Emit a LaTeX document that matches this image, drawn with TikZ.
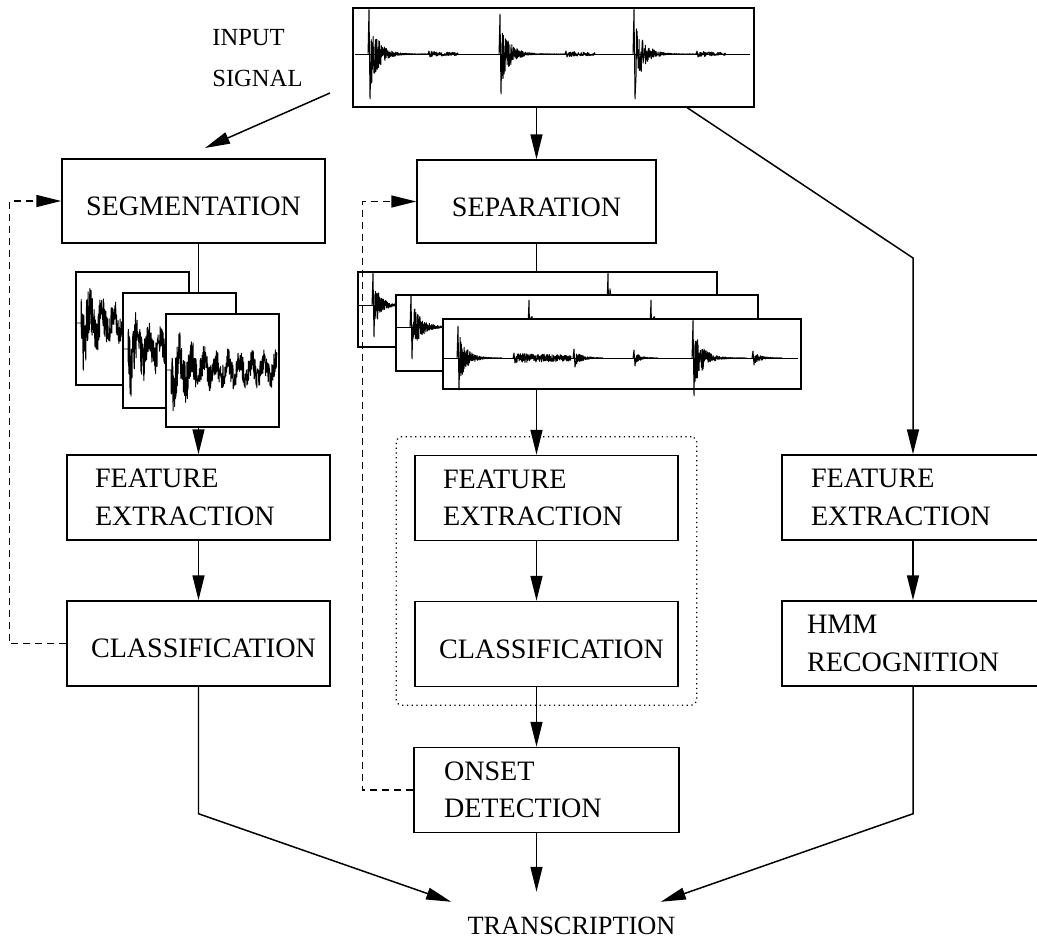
\documentclass[tikz,border=0pt]{standalone}
\usepackage{fontspec}
\setmainfont{Liberation Serif}
\usetikzlibrary{positioning, arrows.meta, calc, fit}
\newcommand{\stagefont}{\fontsize{16}{21.3}\selectfont}
\newcommand{\smallfont}{\fontsize{14}{23.5}\selectfont}
\newcommand{\transfont}{\fontsize{15}{18}\selectfont}
% decaying burst on a trace: x, midline, amplitude, decay, length, samples
\newcommand{\burst}[6]{%
  \draw[sigline] (#1,#2) -- (#1+1,#2-#3) -- (#1+2,#2+#3)
    -- plot[domain=3:#5, samples=#6] ({#1+\x},{#2+#3*exp(-\x/#4)*rand});}
% one segmented hit: x, midline, length
\newcommand{\hitwave}[3]{%
  \draw[sigline] (#1,#2) -- (#1+5,#2)
    -- plot[domain=0:#3, samples=420] ({#1+5+\x},{#2+54*(0.38+0.62*exp(-\x/16))*(0.4*sin(\x*30)+0.6*rand)});}
\hyphenpenalty=10000
\hbadness=10000
\hfuzz=3cm

\begin{document}
\begin{tikzpicture}[x=0.02cm, y=-0.02cm, >={Triangle[length=0.5cm, width=0.24cm]},
  stage/.style={draw, line width=0.85pt, minimum width=5.26cm, minimum height=1.7cm,
    inner xsep=0pt, text width=#1, align=left, font=\stagefont},
  stage/.default=4.14cm,
  waveframe/.style={draw, fill=white, line width=0.85pt, inner sep=0pt},
  sigline/.style={line width=0.55pt, line join=round},
  link/.style={line width=0.85pt},
  feedback/.style={line width=0.85pt, dash pattern=on 0.14cm off 0.1cm}]
  \pgfmathsetseed{7}
  \useasboundingbox (0,0) rectangle (1037,940);

  % Input signal
  \node[waveframe, minimum width=8.02cm, minimum height=1.98cm] (sig) at (553.5,57.5) {};
  \draw[sigline] (355,54) -- (750,54);
  \burst{368}{54}{45}{9}{70}{280}
  \burst{499}{54}{40}{9}{70}{280}
  \burst{633}{54}{45}{9}{70}{280}
  \burst{428}{54}{3}{40}{30}{90}
  \burst{565}{54}{3}{40}{30}{90}
  \burst{696}{54}{3}{40}{30}{90}
  \node[font=\smallfont, align=left, anchor=north west, inner sep=0pt] (inlabel) at (212,29) {INPUT\\SIGNAL};

  % Top stages
  \node[stage=4.6cm, align=center, minimum height=1.68cm, text height=0.6cm] (seg) at (193.5,201) {SEGMENTATION};
  \node[stage=4.6cm, align=center, minimum width=4.78cm, minimum height=1.66cm, text height=0.6cm] (sep) at (536.5,201.5) {SEPARATION};

  % Segmented hits
  \node[waveframe, minimum width=2.26cm, minimum height=2.26cm] (seg1) at (132.5,328.5) {};
  \hitwave{76}{323}{105}
  \node[waveframe, minimum width=2.26cm, minimum height=2.3cm] (seg2) at (179.5,350.5) {};
  \hitwave{123}{349}{105}
  \node[waveframe, minimum width=2.26cm, minimum height=2.26cm] (seg3) at (222.5,370.5) {};
  \hitwave{166}{370}{106}

  % Separated tracks
  \node[waveframe, minimum width=7.18cm, minimum height=1.5cm] (sepA) at (537.5,309.5) {};
  \draw[sigline] (359,305) -- (716,305);
  \burst{372}{305}{32}{7}{40}{200}
  \burst{607}{305}{32}{5}{30}{120}
  \node[waveframe, minimum width=7.24cm, minimum height=1.52cm] (sepB) at (577,333) {};
  \draw[sigline] (397,327) -- (757,327);
  \burst{410}{327}{32}{9}{45}{200}
  \burst{528}{327}{27}{5}{30}{120}
  \burst{650}{327}{27}{5}{30}{120}
  \node[waveframe, minimum width=7.16cm, minimum height=1.4cm] (sepC) at (622,354) {};
  \draw[sigline] (444,358) -- (798,358);
  \burst{457}{358}{32}{8}{45}{220}
  \burst{513}{358}{5}{120}{58}{240}
  \burst{573}{358}{9}{8}{30}{140}
  \burst{633}{358}{8}{6}{25}{120}
  \burst{692}{358}{38}{9}{55}{260}
  \burst{752}{358}{7}{8}{30}{120}

  % Left column
  \node[stage] (feL) at (198.5,497.5) {FEATURE\\EXTRACTION};
  \node[stage=4.3cm, text height=0.58cm] (clsL) at (198.5,643.5) {CLASSIFICATION};

  % Middle column
  \node[stage] (feM) at (546.5,498) {FEATURE\\EXTRACTION};
  \node[stage=4.3cm, text height=0.58cm] (clsM) at (546.5,644) {CLASSIFICATION};
  \node[draw, dotted, line width=0.7pt, rounded corners=3pt, inner sep=0.36cm, fit=(feM)(clsM)] (grp) {};
  \node[stage=4.1cm, minimum width=5.3cm] (onset) at (546.5,790) {ONSET\\DETECTION};

  % Right column
  \node[stage=4.08cm, minimum width=5.24cm] (feR) at (913,497.5) {FEATURE\\EXTRACTION};
  \node[stage=4.24cm, minimum width=5.24cm] (hmm) at (913,643.5) {HMM\\RECOGNITION};

  \node[font=\transfont, inner xsep=0.32cm, inner ysep=0.3cm] (trans) at (571.5,926) {TRANSCRIPTION};

  % Connectors
  \coordinate (inTail) at (330,93);
  \coordinate (inHead) at (205,148);
  \draw[link,->] (inTail) -- (inHead);
  \draw[link,->] (sep |- sig.south) -- (sep.north);
  \coordinate (sigTap) at ($(sig.south west)+(335,0)$);
  \coordinate (rightBend) at (913,258);
  \draw[link,->] (sigTap) -- (rightBend) -- (feR.north);

  \draw[link] (feL |- seg.south) -- (feL |- seg2.north);
  \draw[link,->] (feL |- seg3.south) -- (feL.north);
  \draw[link,->] (feL.south) -- (clsL.north);

  \draw[link] (sep.south) -- (sep |- sepA.north);
  \draw[link,->] (sep |- sepC.south) -- (sep |- feM.north);
  \draw[link,->] (sep |- feM.south) -- (sep |- clsM.north);
  \draw[link,->] (sep |- clsM.south) -- (sep |- onset.north);
  \draw[link,->] (sep |- onset.south) -- ($(sep |- trans.north)+(0,-10)$);

  \draw[link,->] (feR.south) -- (hmm.north);

  % Feedback loops
  \draw[feedback,->] (clsL.west) -- ++(-57,0) |- (seg.west);
  \draw[feedback,->] (onset.west) -- ++(-51,0) |- (sep.west);

  % Into transcription
  \draw[link,->] (clsL.south) -- ++(0,127) -- (trans.north west);
  \draw[link,->] (hmm.south) -- ++(0,127) -- ($(trans.north east)+(-31,0)$);
\end{tikzpicture}
\end{document}
